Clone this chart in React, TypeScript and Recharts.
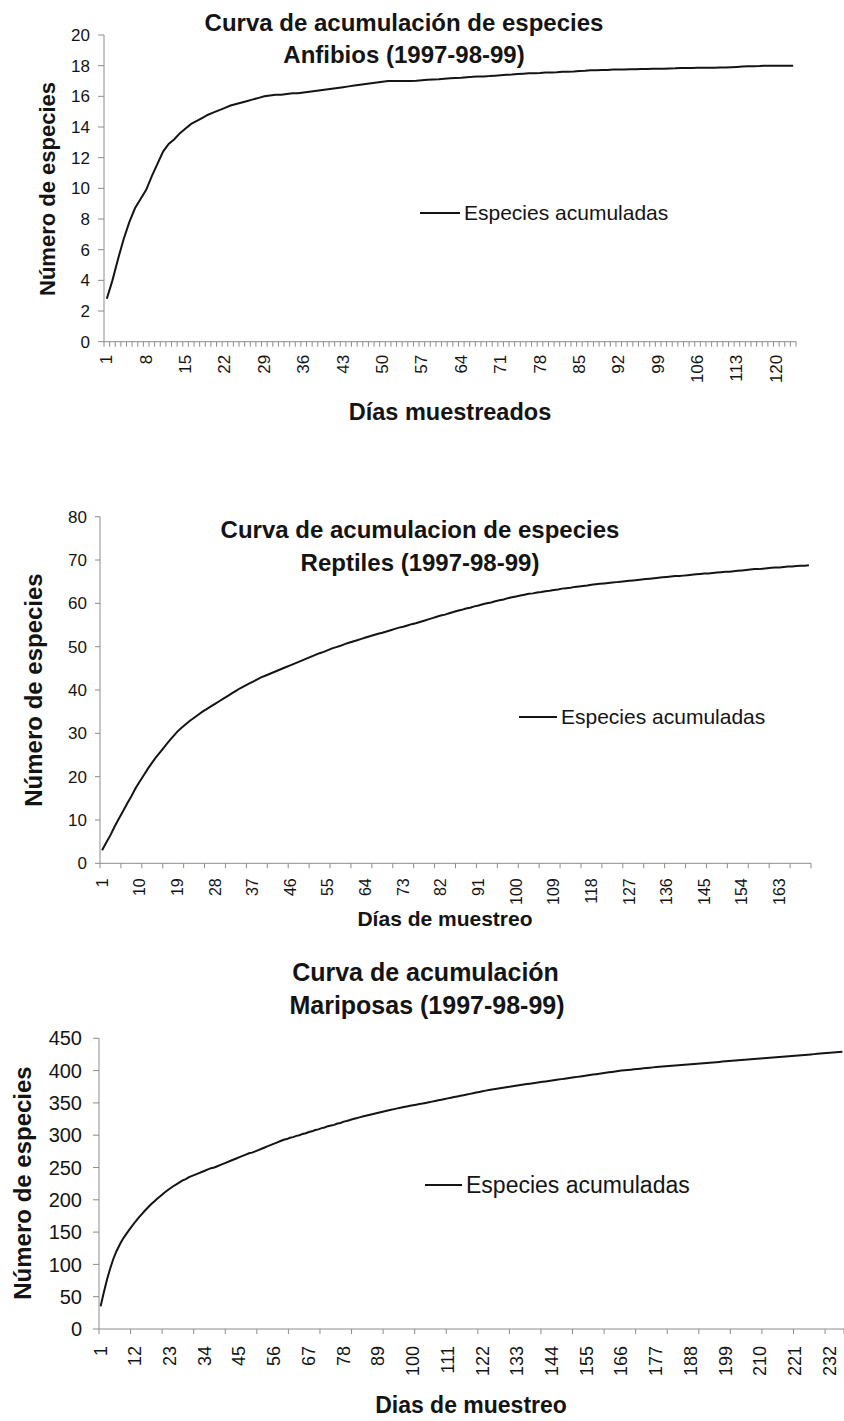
import React from 'react';
import { LineChart, Line, XAxis, YAxis, Legend } from 'recharts';

const FONT = '"Liberation Sans", Arial, Helvetica, sans-serif';
const INK = '#141414';
const AXIS = '#8c8c8c';

// Anfibios: accumulated species per sampled day (1..123)
const anfibiosEspecies = [
  2.8, 4.0, 5.4, 6.7, 7.8, 8.7, 9.3, 9.9, 10.8, 11.6,
  12.4, 12.9, 13.2, 13.6, 13.9, 14.2, 14.4, 14.6, 14.8, 14.95,
  15.1, 15.25, 15.4, 15.5, 15.6, 15.7, 15.8, 15.9, 16.0, 16.05,
  16.1, 16.1, 16.15, 16.2, 16.2, 16.25, 16.3, 16.35, 16.4, 16.45,
  16.5, 16.55, 16.6, 16.65, 16.7, 16.75, 16.8, 16.85, 16.9, 16.95,
  17.0, 17.0, 17.0, 17.0, 17.0, 17.02, 17.05, 17.08, 17.1, 17.12,
  17.15, 17.18, 17.2, 17.22, 17.25, 17.27, 17.3, 17.3, 17.32, 17.35,
  17.38, 17.4, 17.42, 17.45, 17.48, 17.5, 17.5, 17.52, 17.55, 17.55,
  17.57, 17.6, 17.6, 17.62, 17.65, 17.67, 17.7, 17.7, 17.72, 17.72,
  17.75, 17.75, 17.75, 17.77, 17.77, 17.78, 17.78, 17.8, 17.8, 17.8,
  17.82, 17.83, 17.85, 17.85, 17.85, 17.87, 17.87, 17.87, 17.87, 17.88,
  17.88, 17.9, 17.92, 17.94, 17.96, 17.97, 17.98, 18.0, 18.0, 18.0,
  18.0, 18.0, 18.0,
];
const anfibiosLabels = [1, 8, 15, 22, 29, 36, 43, 50, 57, 64, 71, 78, 85, 92, 99, 106, 113, 120];
const anfibiosYTicks = [0, 2, 4, 6, 8, 10, 12, 14, 16, 18, 20];

// Reptiles (1..170)
const reptilesEspecies = [
  3.0, 4.8, 6.5, 8.5, 10.3, 12.0, 13.8, 15.5, 17.3, 18.9,
  20.4, 21.9, 23.3, 24.6, 25.8, 27.0, 28.2, 29.3, 30.4, 31.3,
  32.1, 32.9, 33.6, 34.3, 35.0, 35.6, 36.2, 36.8, 37.4, 38.0,
  38.6, 39.2, 39.8, 40.4, 40.9, 41.4, 41.9, 42.4, 42.9, 43.3,
  43.7, 44.1, 44.5, 44.9, 45.3, 45.7, 46.1, 46.5, 46.9, 47.3,
  47.7, 48.1, 48.5, 48.8, 49.2, 49.6, 49.9, 50.2, 50.6, 50.9,
  51.2, 51.5, 51.8, 52.1, 52.4, 52.7, 53.0, 53.2, 53.5, 53.8,
  54.1, 54.4, 54.6, 54.9, 55.2, 55.4, 55.7, 56.0, 56.3, 56.6,
  56.9, 57.2, 57.4, 57.7, 58.0, 58.3, 58.5, 58.8, 59.0, 59.3,
  59.5, 59.8, 60.0, 60.2, 60.5, 60.7, 60.9, 61.2, 61.4, 61.6,
  61.8, 62.0, 62.2, 62.3, 62.5, 62.6, 62.8, 62.9, 63.1, 63.2,
  63.4, 63.5, 63.6, 63.8, 63.9, 64.0, 64.1, 64.3, 64.4, 64.5,
  64.6, 64.7, 64.8, 64.9, 65.0, 65.1, 65.2, 65.3, 65.4, 65.5,
  65.6, 65.7, 65.8, 65.9, 66.0, 66.1, 66.2, 66.3, 66.3, 66.4,
  66.5, 66.6, 66.7, 66.8, 66.9, 66.9, 67.0, 67.1, 67.2, 67.3,
  67.3, 67.4, 67.5, 67.6, 67.7, 67.8, 67.9, 67.9, 68.0, 68.1,
  68.2, 68.3, 68.3, 68.4, 68.5, 68.5, 68.6, 68.7, 68.7, 68.8,
];
const reptilesLabels = [1, 10, 19, 28, 37, 46, 55, 64, 73, 82, 91, 100, 109, 118, 127, 136, 145, 154, 163];
const reptilesYTicks = [0, 10, 20, 30, 40, 50, 60, 70, 80];

// Mariposas (1..236, cut at the right edge)
const mariposasEspecies = [
  35, 56, 76, 93, 108, 120, 130, 139, 146, 153,
  159.5, 166, 172, 177.5, 183, 188, 193, 197.5, 202, 206,
  210, 214, 217.5, 221, 224, 227, 230, 232, 235, 237,
  239, 241, 243, 245, 247, 249, 250, 252, 254, 256,
  258, 260, 262, 264, 266, 268, 270, 272, 273, 275,
  277, 279, 281, 283, 285, 287, 289, 291, 293, 294,
  296, 297, 299, 300, 302, 303, 305, 306, 308, 309,
  311, 312, 314, 315, 316, 318, 319, 321, 322, 323.5,
  325, 326.3, 327.6, 328.8, 330, 331.2, 332.4, 333.6, 334.8, 336,
  337.1, 338.2, 339.3, 340.4, 341.5, 342.5, 343.5, 344.5, 345.5, 346.5,
  347.3, 348.2, 349, 350, 351, 352, 353, 354, 355, 356,
  357, 358, 359, 360, 361, 362, 363, 364, 365, 366,
  367, 368, 369, 369.8, 370.6, 371.4, 372.2, 373.0, 373.8, 374.6,
  375.4, 376.2, 377.0, 377.7, 378.4, 379.1, 379.8, 380.5, 381.2, 381.9,
  382.6, 383.3, 384.0, 384.7, 385.4, 386.1, 386.8, 387.5, 388.2, 388.9,
  389.6, 390.3, 391.0, 391.7, 392.4, 393.1, 393.8, 394.5, 395.2, 395.9,
  396.6, 397.3, 398.0, 398.7, 399.4, 400.0, 400.5, 401.0, 401.5, 402.0,
  402.5, 403.0, 403.5, 404.0, 404.5, 405.0, 405.5, 405.9, 406.3, 406.7,
  407.1, 407.5, 407.9, 408.3, 408.7, 409.1, 409.5, 409.9, 410.3, 410.7,
  411.1, 411.5, 411.9, 412.3, 412.7, 413.1, 413.5, 413.9, 414.3, 414.7,
  415.1, 415.5, 415.9, 416.3, 416.7, 417.1, 417.5, 417.9, 418.3, 418.7,
  419.1, 419.5, 419.9, 420.3, 420.7, 421.1, 421.5, 421.9, 422.3, 422.7,
  423.1, 423.5, 423.9, 424.3, 424.7, 425.1, 425.5, 425.9, 426.3, 426.7,
  427.1, 427.5, 427.9, 428.3, 428.7, 429.1,
];
const mariposasLabels = [1, 12, 23, 34, 45, 56, 67, 78, 89, 100, 111, 122, 133, 144, 155, 166, 177, 188, 199, 210, 221, 232];
const mariposasYTicks = [0, 50, 100, 150, 200, 250, 300, 350, 400, 450];

const SERIES_NAME = 'Especies acumuladas';
const Y_TITLE = 'Número de especies';

// page-pixel layout of each panel
const layouts = {
  anfibios: {
    top: 0, height: 440,
    plotTop: 35, plotBottom: 341.7, plotLeft: 104, plotRight: 796,
    yTick: { size: 6, margin: 8, font: 17 },
    xTick: { every: 1, gap: 13, font: 17 },
    yTitle: { x: 47, y: 189, font: 22 },
    xTitle: { x: 450, y: 412, font: 23.5 },
    titleFont: 24,
    titlePos: [{ x: 404, y: 23 }, { x: 404, y: 55 }],
    legend: { x: 420, y: 213, line: 40, font: 21 },
  },
  reptiles: {
    top: 470, height: 460,
    plotTop: 516.7, plotBottom: 863.3, plotLeft: 100, plotRight: 811,
    yTick: { size: 5, margin: 8, font: 17 },
    xTick: { every: 5, gap: 15, font: 16 },
    yTitle: { x: 33.5, y: 690, font: 24 },
    xTitle: { x: 445, y: 918, font: 21 },
    titleFont: 24,
    titlePos: [{ x: 420, y: 530 }, { x: 420, y: 563 }],
    legend: { x: 519, y: 717, line: 38, font: 21 },
  },
  mariposas: {
    top: 930, height: 491,
    plotTop: 1038.3, plotBottom: 1329, plotLeft: 99, plotRight: 844,
    yTick: { size: 6, margin: 11, font: 20 },
    xTick: { every: 10, gap: 17, font: 18 },
    yTitle: { x: 22.5, y: 1183, font: 24 },
    xTitle: { x: 471, y: 1405, font: 23 },
    titleFont: 25,
    titlePos: [{ x: 425.5, y: 972 }, { x: 427, y: 1005 }],
    legend: { x: 425, y: 1185, line: 37, font: 23 },
  },
};

function CurvaChart({ values, yTicks, xLabels, xTitle, titles, lay }: any) {
  const data = values.map((v: number, i: number) => ({ dia: i + 1, especies: v }));
  const n = values.length;
  const band = (lay.plotRight - lay.plotLeft) / n;
  const labelSet = new Set(xLabels);
  const top = lay.top;

  const renderXTick = (p: any) => {
    const { x, y, payload, index } = p;
    const ly = y + lay.xTick.gap;
    return (
      <g>
        {index % lay.xTick.every === 0 && (
          <line x1={x - band / 2} x2={x - band / 2} y1={y} y2={y + 5} stroke={AXIS} />
        )}
        {index === n - 1 && <line x1={x + band / 2} x2={x + band / 2} y1={y} y2={y + 5} stroke={AXIS} />}
        {labelSet.has(payload.value) && (
          <text
            x={x}
            y={ly}
            transform={`rotate(-90 ${x} ${ly})`}
            textAnchor="end"
            dominantBaseline="central"
            fontSize={lay.xTick.font}
            fontFamily={FONT}
            fill={INK}
          >
            {payload.value}
          </text>
        )}
      </g>
    );
  };

  const renderLegend = (props: any) => (
    <div style={{ fontFamily: FONT }}>
      {(props.payload || []).map((e: any) => (
        <div key={e.value} style={{ display: 'flex', alignItems: 'center', height: 24, whiteSpace: 'nowrap' }}>
          <span style={{ display: 'inline-block', width: lay.legend.line, borderTop: `2px solid ${INK}`, marginRight: 4 }} />
          <span style={{ fontSize: lay.legend.font, color: INK }}>{e.value}</span>
        </div>
      ))}
    </div>
  );

  const ytx = lay.yTitle.x;
  const yty = lay.yTitle.y - top;

  return (
    <>
      {titles.map((t: string, i: number) => (
        <div
          key={t}
          style={{
            position: 'absolute',
            left: lay.titlePos[i].x - 300,
            top: lay.titlePos[i].y - 16,
            width: 600,
            lineHeight: '32px',
            textAlign: 'center',
            fontFamily: FONT,
            fontWeight: 'bold',
            fontSize: lay.titleFont,
            color: INK,
            zIndex: 2,
            whiteSpace: 'nowrap',
          }}
        >
          {t}
        </div>
      ))}
      <div style={{ position: 'absolute', left: 0, top }}>
        <LineChart
          width={844}
          height={lay.height}
          data={data}
          margin={{ top: lay.plotTop - top, right: 844 - lay.plotRight, bottom: 0, left: 0 }}
        >
          <XAxis
            dataKey="dia"
            interval={0}
            tickSize={0}
            tickMargin={0}
            tickLine={false}
            axisLine={{ stroke: AXIS }}
            height={lay.height - (lay.plotBottom - top)}
            padding={{ left: band / 2, right: band / 2 }}
            tick={renderXTick}
            label={() => (
              <text
                x={lay.xTitle.x}
                y={lay.xTitle.y - top}
                textAnchor="middle"
                dominantBaseline="central"
                fontFamily={FONT}
                fontWeight="bold"
                fontSize={lay.xTitle.font}
                fill={INK}
              >
                {xTitle}
              </text>
            )}
          />
          <YAxis
            domain={[yTicks[0], yTicks[yTicks.length - 1]]}
            ticks={yTicks}
            interval={0}
            width={lay.plotLeft}
            tickSize={lay.yTick.size}
            tickMargin={lay.yTick.margin}
            tickLine={{ stroke: AXIS }}
            axisLine={{ stroke: AXIS }}
            tick={{ fill: INK, fontSize: lay.yTick.font, fontFamily: FONT }}
            label={() => (
              <text
                x={ytx}
                y={yty}
                transform={`rotate(-90 ${ytx} ${yty})`}
                textAnchor="middle"
                dominantBaseline="central"
                fontFamily={FONT}
                fontWeight="bold"
                fontSize={lay.yTitle.font}
                fill={INK}
              >
                {Y_TITLE}
              </text>
            )}
          />
          <Legend
            layout="vertical"
            align="center"
            verticalAlign="middle"
            wrapperStyle={{ left: lay.legend.x, top: lay.legend.y - top - 12, width: 'auto' }}
            content={renderLegend}
          />
          <Line
            type="linear"
            dataKey="especies"
            name={SERIES_NAME}
            stroke={INK}
            strokeWidth={2}
            dot={false}
            activeDot={false}
            legendType="plainline"
            isAnimationActive={false}
          />
        </LineChart>
      </div>
    </>
  );
}

export default function App() {
  return (
    <div style={{ position: 'absolute', left: 0, top: 0, width: 844, height: 1421, background: '#fff' }}>
      <CurvaChart
        values={anfibiosEspecies}
        yTicks={anfibiosYTicks}
        xLabels={anfibiosLabels}
        xTitle="Días muestreados"
        titles={['Curva de acumulación de especies', 'Anfibios (1997-98-99)']}
        lay={layouts.anfibios}
      />
      <CurvaChart
        values={reptilesEspecies}
        yTicks={reptilesYTicks}
        xLabels={reptilesLabels}
        xTitle="Días de muestreo"
        titles={['Curva de acumulacion de especies', 'Reptiles (1997-98-99)']}
        lay={layouts.reptiles}
      />
      <CurvaChart
        values={mariposasEspecies}
        yTicks={mariposasYTicks}
        xLabels={mariposasLabels}
        xTitle="Dias de muestreo"
        titles={['Curva de acumulación', 'Mariposas (1997-98-99)']}
        lay={layouts.mariposas}
      />
    </div>
  );
}
